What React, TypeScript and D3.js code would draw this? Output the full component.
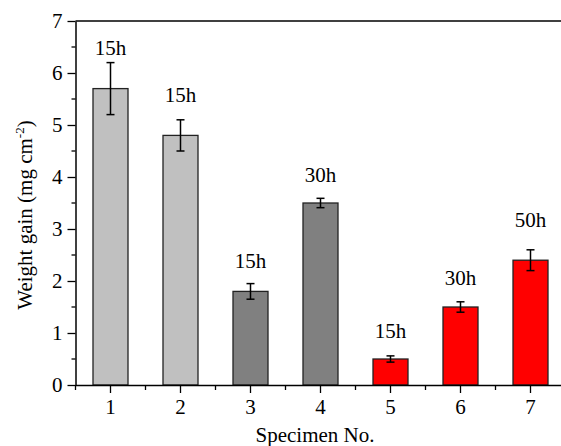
import * as d3 from "d3";
import { useEffect, useRef } from "react";

const specimens = ["1", "2", "3", "4", "5", "6", "7"];
const weightGain = [5.7, 4.8, 1.8, 3.5, 0.5, 1.5, 2.4];
const errors = [0.5, 0.3, 0.15, 0.09, 0.06, 0.1, 0.2];
const durations = ["15h", "15h", "15h", "30h", "15h", "30h", "50h"];
// baseline of each duration label, in data units
const labelLevels = [6.35, 5.45, 2.25, 3.9, 0.9, 1.92, 3.04];
const groups = ["light", "light", "dark", "dark", "red", "red", "red"];
const yTicks = [0, 1, 2, 3, 4, 5, 6, 7];

const colors: Record<string, string> = {
  light: "#c0c0c0",
  dark: "#808080",
  red: "#ff0000",
};

const FONT = "Liberation Serif, Times New Roman, serif";

const App = () => {
  const ref = useRef<SVGSVGElement | null>(null);

  useEffect(() => {
    document.body.style.margin = "0";
    if (!ref.current) return;
    const svg = d3.select(ref.current);
    svg.selectAll("*").remove();

    const width = 561;
    const height = 446;
    const left = 75.5;
    const top = 21;
    const bottom = 385;

    const x = d3
      .scaleBand<string>()
      .domain(specimens)
      .range([left, left + 490])
      .paddingInner(0.5)
      .paddingOuter(0.25);
    const step = x.step();
    const cx = (s: string) => x(s)! + x.bandwidth() / 2;

    const y = d3.scaleLinear().domain([0, 7]).range([bottom, top]);

    svg.attr("width", width).attr("height", height).style("font-family", FONT);

    const data = specimens.map((s, i) => ({
      s,
      v: weightGain[i],
      e: errors[i],
      label: durations[i],
      ly: labelLevels[i],
      g: groups[i],
    }));

    // bars
    svg
      .append("g")
      .selectAll("rect")
      .data(data)
      .join("rect")
      .attr("x", (d) => x(d.s)!)
      .attr("y", (d) => y(d.v))
      .attr("width", x.bandwidth())
      .attr("height", (d) => y(0) - y(d.v))
      .attr("fill", (d) => colors[d.g])
      .attr("stroke", "#222")
      .attr("stroke-width", 1.3);

    // error bars
    const eg = svg.append("g").attr("stroke", "#000").attr("stroke-width", 1.5);
    data.forEach((d) => {
      const c = cx(d.s);
      eg.append("line")
        .attr("x1", c)
        .attr("x2", c)
        .attr("y1", y(d.v - d.e))
        .attr("y2", y(d.v + d.e));
      [d.v - d.e, d.v + d.e].forEach((v) => {
        eg.append("line")
          .attr("x1", c - 4)
          .attr("x2", c + 4)
          .attr("y1", y(v))
          .attr("y2", y(v));
      });
    });

    // duration labels
    svg
      .append("g")
      .selectAll("text")
      .data(data)
      .join("text")
      .attr("x", (d) => cx(d.s))
      .attr("y", (d) => y(d.ly))
      .attr("text-anchor", "middle")
      .style("font-family", FONT)
      .style("font-size", "21px")
      .text((d) => d.label);

    // y axis
    const yAxis = svg
      .append("g")
      .attr("transform", `translate(${left},0)`)
      .call(
        d3
          .axisLeft(y)
          .tickValues(yTicks)
          .tickFormat(d3.format("d"))
          .tickSize(8)
          .tickSizeOuter(0)
          .tickPadding(5)
      );
    yAxis.select(".domain").attr("stroke-width", 1.5);
    yAxis.selectAll(".tick line").attr("stroke-width", 1.3);
    yAxis
      .selectAll(".tick text")
      .style("font-family", FONT)
      .style("font-size", "21px")
      .attr("fill", "#000");
    yAxis
      .selectAll("line.minor")
      .data(yTicks.slice(0, -1).map((t) => t + 0.5))
      .join("line")
      .attr("class", "minor")
      .attr("x1", -4)
      .attr("x2", 0)
      .attr("y1", (d) => y(d))
      .attr("y2", (d) => y(d))
      .attr("stroke", "#000")
      .attr("stroke-width", 1.3);

    // x axis
    const xAxis = svg
      .append("g")
      .attr("transform", `translate(0,${bottom})`)
      .call(d3.axisBottom(x).tickSize(8).tickSizeOuter(0).tickPadding(6));
    xAxis.select(".domain").attr("stroke-width", 1.5);
    xAxis.selectAll(".tick line").attr("stroke-width", 1.3);
    xAxis
      .selectAll(".tick text")
      .style("font-family", FONT)
      .style("font-size", "21px")
      .attr("fill", "#000");
    xAxis
      .selectAll("line.minor")
      .data([cx(specimens[0]) - step / 2, ...specimens.map((s) => cx(s) + step / 2)])
      .join("line")
      .attr("class", "minor")
      .attr("x1", (d) => d)
      .attr("x2", (d) => d)
      .attr("y1", 0)
      .attr("y2", 5)
      .attr("stroke", "#000")
      .attr("stroke-width", 1.3);

    // top frame line
    svg
      .append("line")
      .attr("x1", left)
      .attr("x2", left + 490)
      .attr("y1", top)
      .attr("y2", top)
      .attr("stroke", "#000")
      .attr("stroke-width", 1.5);

    // axis titles
    svg
      .append("text")
      .attr("x", 315)
      .attr("y", 442)
      .attr("text-anchor", "middle")
      .style("font-family", FONT)
      .style("font-size", "21px")
      .text("Specimen No.");

    const yt = svg
      .append("text")
      .attr("transform", "translate(32,215) rotate(-90)")
      .attr("text-anchor", "middle")
      .style("font-family", FONT)
      .style("font-size", "21px");
    yt.append("tspan").text("Weight gain (mg cm");
    yt.append("tspan").style("font-size", "13px").attr("dy", -8).text("-2");
    yt.append("tspan").attr("dy", 8).text(")");
  }, []);

  return <svg ref={ref} style={{ display: "block" }}></svg>;
};

export default App;
